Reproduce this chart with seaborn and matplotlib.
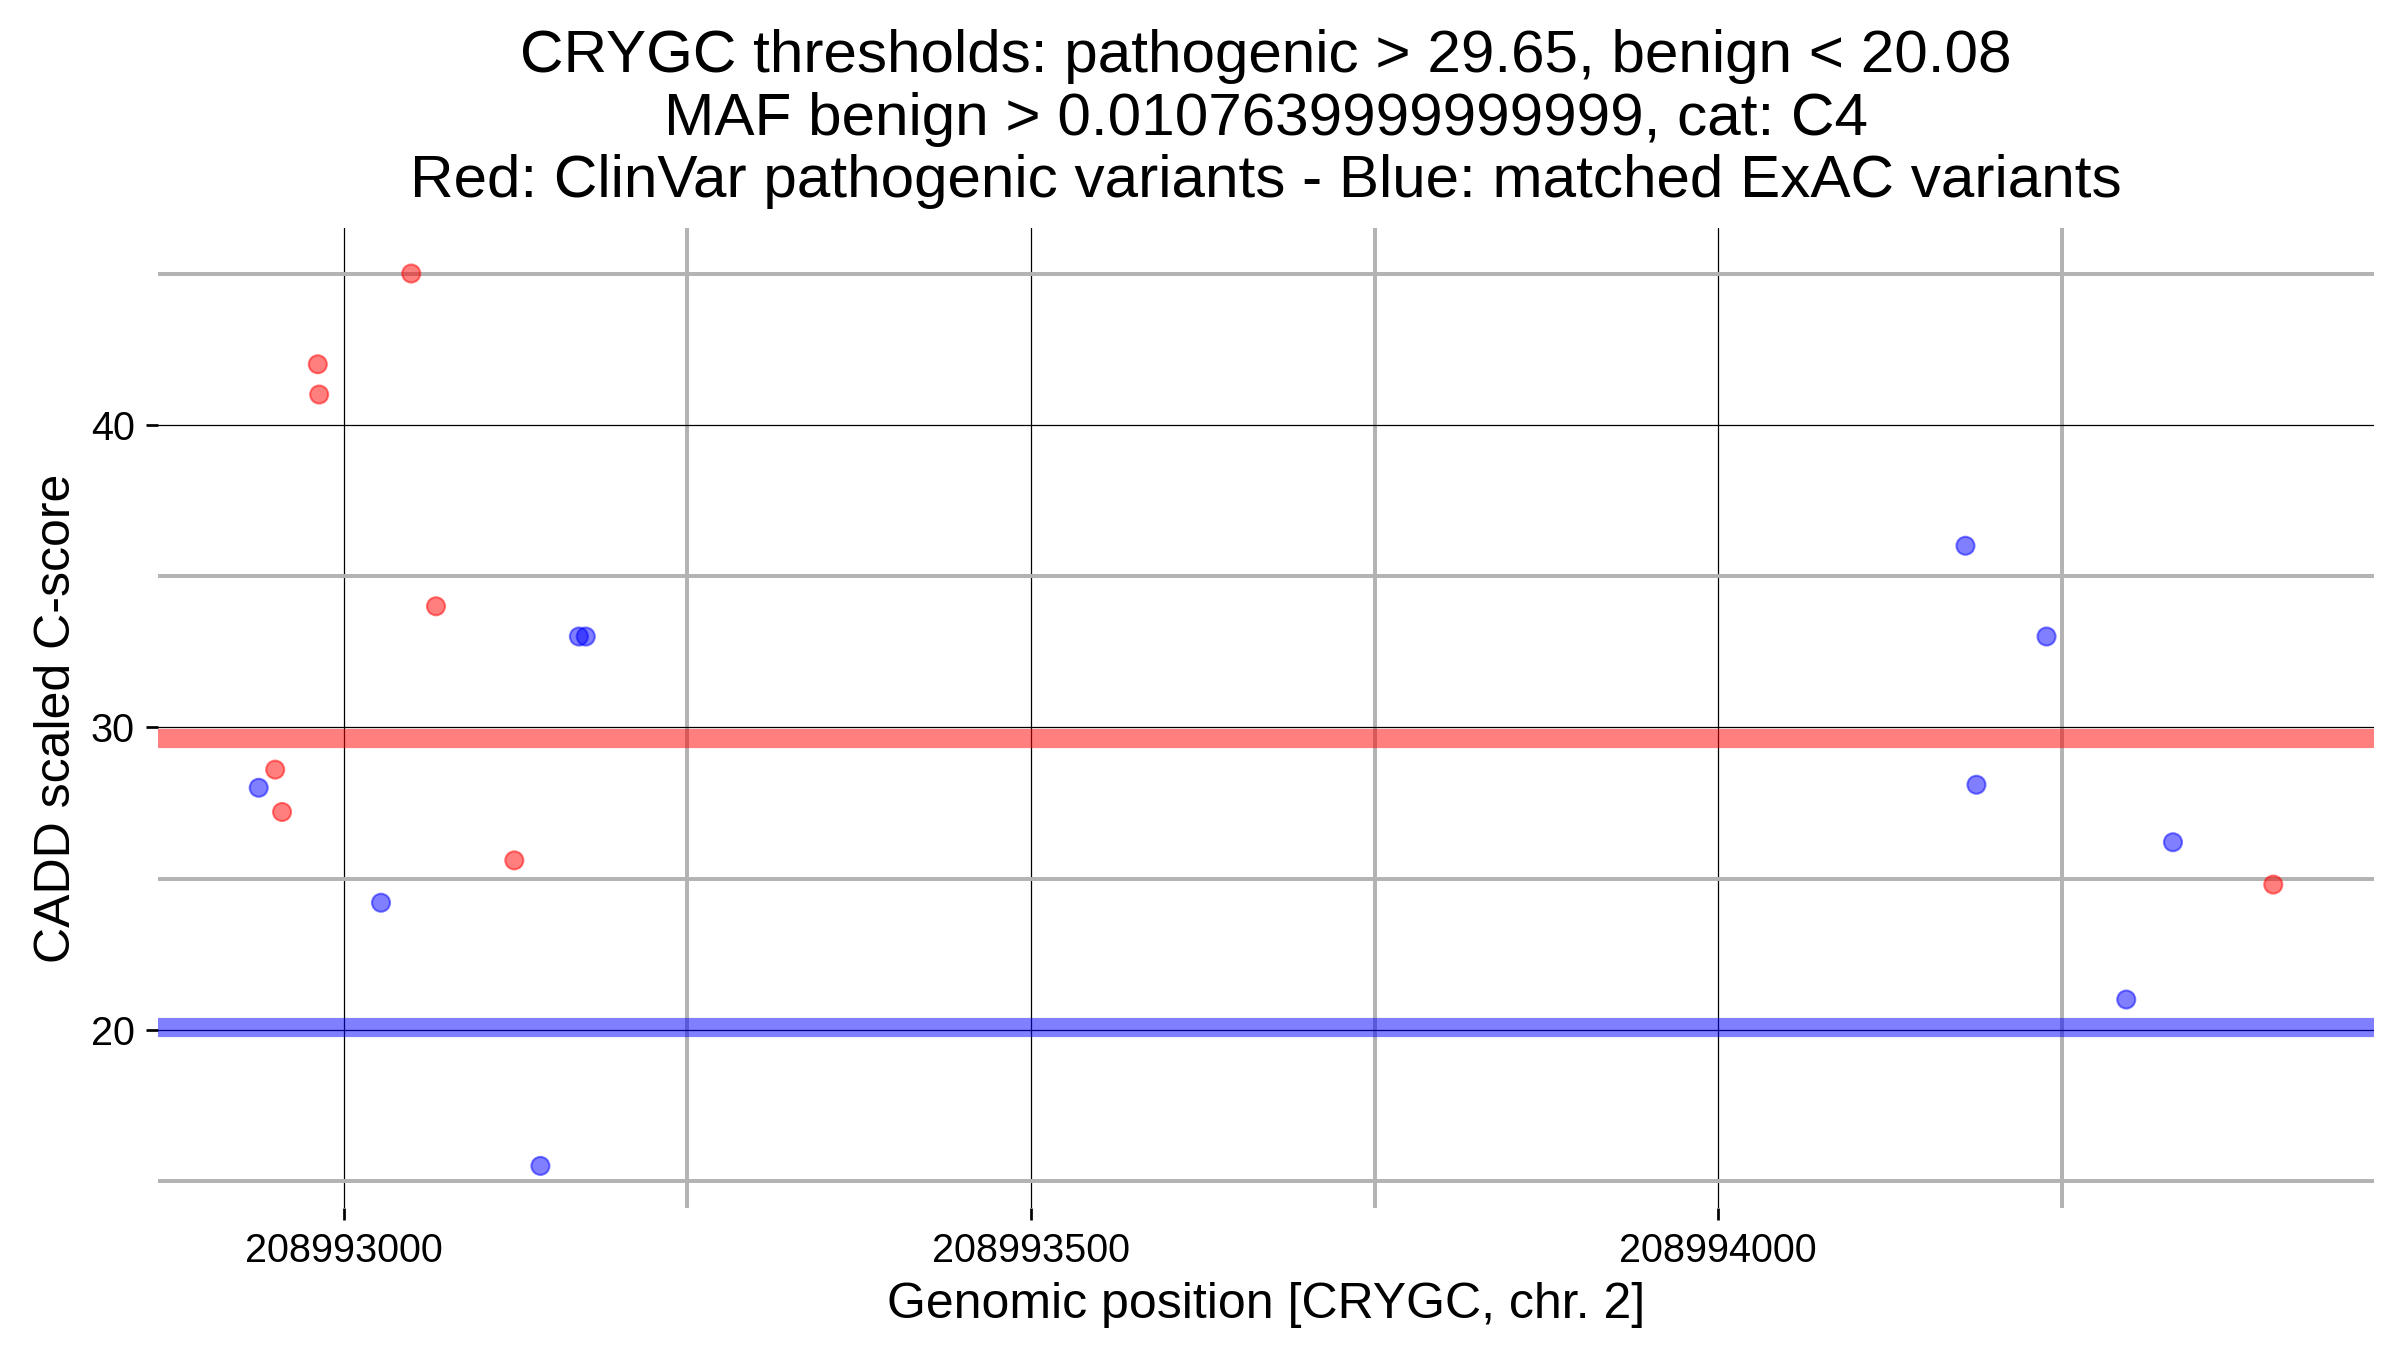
import numpy as np
import pandas as pd
import matplotlib
matplotlib.use("Agg")
import matplotlib.pyplot as plt
import seaborn as sns

# ClinVar pathogenic variants (red)
pathogenic_pos = [208993049, 208992981, 208992982, 208993067, 208992950,
                  208992955, 208993124, 208994404]
pathogenic_score = [45.0, 42.0, 41.0, 34.0, 28.6, 27.2, 25.6, 24.8]

# matched ExAC variants (blue)
benign_pos = [208992938, 208993027, 208993143, 208993171, 208993176,
              208994180, 208994188, 208994239, 208994297, 208994331]
benign_score = [28.0, 24.2, 15.5, 33.0, 33.0, 36.0, 28.1, 33.0, 21.0, 26.2]

path_thr = 29.65
benign_thr = 20.08

x_major = [208993000, 208993500, 208994000]
x_minor = [208993250, 208993750, 208994250]
y_major = [20, 30, 40]
y_minor = [15, 25, 35, 45]

df = pd.DataFrame({
    "pos": pathogenic_pos + benign_pos,
    "score": pathogenic_score + benign_score,
    "group": ["pathogenic"] * len(pathogenic_pos) + ["benign"] * len(benign_pos),
})

sns.set_theme(style="white")
plt.rcParams['font.family'] = ['Liberation Sans', 'DejaVu Sans']
plt.rcParams['text.color'] = 'black'
plt.rcParams['axes.labelcolor'] = 'black'

fig, ax = plt.subplots(figsize=(16, 9), dpi=150)
fig.subplots_adjust(left=0.066, right=0.989, top=0.831, bottom=0.105)

# grid: minor grey, major black
ax.set_xticks(x_major)
ax.set_xticks(x_minor, minor=True)
ax.set_yticks(y_major)
ax.set_yticks(y_minor, minor=True)
ax.set_xticklabels([str(v) for v in x_major])
ax.grid(which="minor", color="#b3b3b3", linewidth=1.9, zorder=0)
ax.grid(which="major", color="black", linewidth=0.6, zorder=0)
ax.set_axisbelow(True)

# threshold bands
ax.axhline(path_thr, color="red", alpha=0.5, linewidth=9.2, zorder=1)
ax.axhline(benign_thr, color="blue", alpha=0.5, linewidth=9.2, zorder=1)

sns.scatterplot(data=df, x="pos", y="score", hue="group",
                palette={"pathogenic": "red", "benign": "blue"},
                alpha=0.5, s=75, edgecolor="face", linewidth=1,
                legend=False, ax=ax, zorder=3)

ax.set_xlim(208992865, 208994477)
ax.set_ylim(14.1, 46.5)
sns.despine(ax=ax, left=True, bottom=True)

ax.tick_params(which="major", bottom=True, left=True, length=5.8, width=1.3,
               color="black", labelsize=19, pad=5.5, labelcolor="black")
ax.tick_params(which="minor", bottom=False, left=False, length=0)

ax.set_xlabel("Genomic position [CRYGC, chr. 2]", fontsize=24, labelpad=6)
ax.set_ylabel("CADD scaled C-score", fontsize=24, labelpad=5)
ax.set_title("CRYGC thresholds: pathogenic > 29.65, benign < 20.08\n"
             "MAF benign > 0.0107639999999999, cat: C4\n"
             "Red: ClinVar pathogenic variants - Blue: matched ExAC variants",
             fontsize=28.9, linespacing=1.17, pad=15)

plt.savefig("out.png", dpi=150)
